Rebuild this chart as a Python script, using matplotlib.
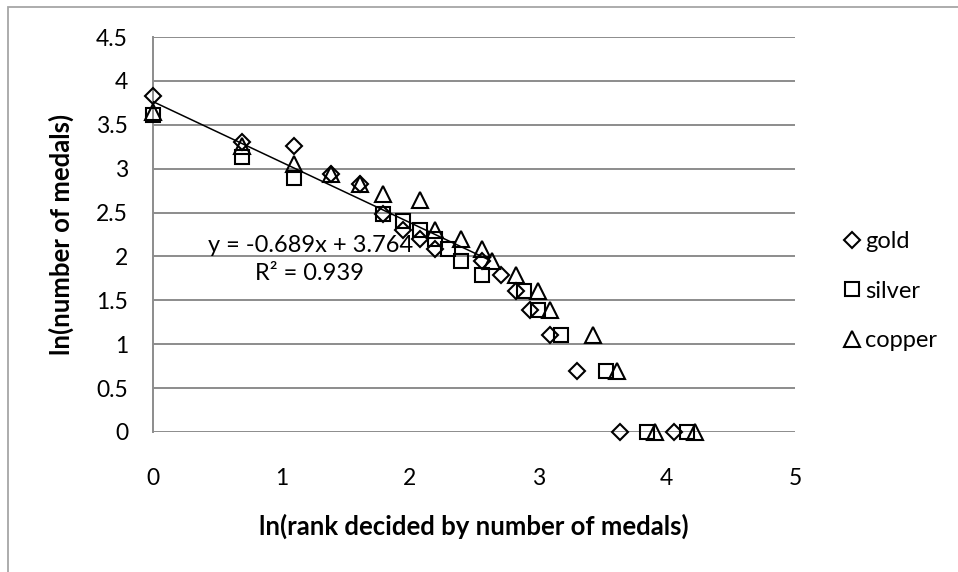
import matplotlib
matplotlib.use("Agg")
import matplotlib.pyplot as plt
import numpy as np
from matplotlib.lines import Line2D
from matplotlib.patches import Rectangle

plt.rcParams['font.family'] = ['Lato', 'DejaVu Sans']

# ln(rank) and ln(count) for each medal type
gold_x = [0, 0.69, 1.10, 1.39, 1.61, 1.79, 1.95, 2.08, 2.20, 2.56, 2.71, 2.83, 2.94, 3.09, 3.30, 3.64, 4.06]
gold_y = [3.83, 3.30, 3.26, 2.94, 2.83, 2.48, 2.30, 2.20, 2.08, 1.95, 1.79, 1.61, 1.39, 1.10, 0.69, 0, 0]

silver_x = [0, 0.69, 1.10, 1.79, 1.95, 2.08, 2.20, 2.30, 2.40, 2.56, 2.89, 3.00, 3.18, 3.53, 3.85, 4.16]
silver_y = [3.61, 3.13, 2.89, 2.48, 2.40, 2.30, 2.20, 2.08, 1.95, 1.79, 1.61, 1.39, 1.10, 0.69, 0, 0]

copper_x = [0, 0.69, 1.10, 1.39, 1.61, 1.79, 2.08, 2.20, 2.40, 2.56, 2.64, 2.83, 3.00, 3.09, 3.43, 3.61, 3.91, 4.22]
copper_y = [3.64, 3.26, 3.05, 2.94, 2.83, 2.71, 2.64, 2.30, 2.20, 2.08, 1.95, 1.79, 1.61, 1.39, 1.10, 0.69, 0, 0]

# linear trendline y = a*x + b
slope = -0.689
intercept = 3.764
r2 = 0.939
trend_x = [0, 2.60]

grid_col = '#8c8c8c'

fig = plt.figure(figsize=(9.58, 5.72), dpi=100)
ax = fig.add_axes([153 / 958, 1 - 432 / 572, (795 - 153) / 958, (432 - 37) / 572])

# chart frame
fig.patches.append(Rectangle((8 / 958, -0.05), 1.2, 1 - 7 / 572 + 0.05, transform=fig.transFigure,
                             fill=False, edgecolor='#a6a6a6', linewidth=1.3))

mk = dict(linestyle='none', mfc='none', mec='black', mew=1.5)
ax.plot(gold_x, gold_y, marker='D', ms=8.0, label='gold', clip_on=False, zorder=3, **mk)
ax.plot(silver_x, silver_y, marker='s', ms=10.5, label='silver', clip_on=False, zorder=3, **mk)
ax.plot(copper_x, copper_y, marker='^', ms=11.5, label='copper', clip_on=False, zorder=3, **mk)

tx = np.array(trend_x)
ax.plot(tx, slope * tx + intercept, color='black', lw=1.1, zorder=4)

ax.text(1.23, 2.12, 'y = %.3fx + %.3f' % (slope, intercept), ha='center', va='center', fontsize=17)
ax.text(1.22, 1.81, 'R\u00b2 = %.3f' % r2, ha='center', va='center', fontsize=17)

ax.set_xlim(0, 5)
ax.set_ylim(0, 4.5)
ax.set_xticks(np.arange(0, 6, 1))
ax.set_yticks(np.arange(0, 4.6, 0.5))
ax.set_yticklabels(['0', '0.5', '1', '1.5', '2', '2.5', '3', '3.5', '4', '4.5'])
ax.yaxis.grid(True, color=grid_col, lw=1.4)
ax.set_axisbelow(True)
for s in ['top', 'right', 'bottom']:
    ax.spines[s].set_visible(False)
ax.spines['left'].set_color(grid_col)
ax.spines['left'].set_linewidth(1.4)
ax.tick_params(axis='x', length=0, pad=26, labelsize=16.5)
ax.tick_params(axis='y', length=0, pad=18, labelsize=16.5)

ax.set_xlabel('ln(rank decided by number of medals)', fontsize=18.5, fontweight='bold', labelpad=18)
ax.set_ylabel('ln(number of medals)', fontsize=18.5, fontweight='bold', labelpad=16)

handles = [Line2D([], [], marker='D', ms=8.0, **mk),
           Line2D([], [], marker='s', ms=10.5, **mk),
           Line2D([], [], marker='^', ms=11.5, **mk)]
ax.legend(handles, ['gold', 'silver', 'copper'], loc='center left', bbox_to_anchor=(843 / 958, 1 - 291 / 572),
          bbox_transform=fig.transFigure, frameon=False, fontsize=17, handlelength=0.75,
          handletextpad=0.2, labelspacing=1.2, borderpad=0, borderaxespad=0)

fig.savefig('out.png', dpi=100)
